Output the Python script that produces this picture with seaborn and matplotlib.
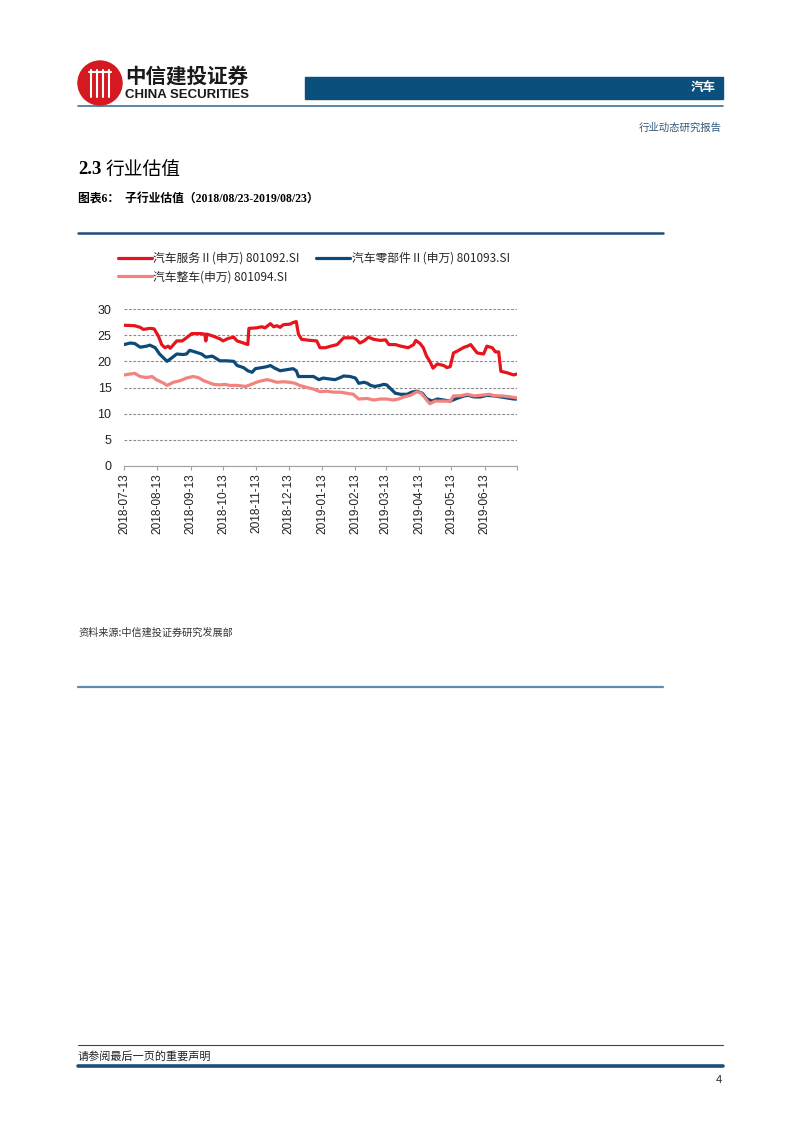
import matplotlib
matplotlib.use("Agg")
import matplotlib.pyplot as plt
from matplotlib.patches import Rectangle, Ellipse
from matplotlib.lines import Line2D
import pandas as pd
import seaborn as sns

# --- data (PE, TTM) ---
red_dates = ["2018-07-13", "2018-07-23", "2018-07-28", "2018-07-31", "2018-08-06", "2018-08-10",
             "2018-08-14", "2018-08-17", "2018-08-20", "2018-08-23", "2018-08-25", "2018-08-31",
             "2018-09-05", "2018-09-09", "2018-09-14", "2018-09-22", "2018-09-26", "2018-09-27",
             "2018-09-28", "2018-10-04", "2018-10-10", "2018-10-13", "2018-10-18", "2018-10-23",
             "2018-10-26", "2018-11-01", "2018-11-05", "2018-11-06", "2018-11-13", "2018-11-18",
             "2018-11-21", "2018-11-26", "2018-11-29", "2018-12-02", "2018-12-05", "2018-12-08",
             "2018-12-14", "2018-12-17", "2018-12-20", "2018-12-22", "2018-12-25", "2019-01-02",
             "2019-01-08", "2019-01-11", "2019-01-16", "2019-01-21", "2019-01-27", "2019-02-02",
             "2019-02-11", "2019-02-14", "2019-02-17", "2019-02-21", "2019-02-25", "2019-03-02",
             "2019-03-08", "2019-03-13", "2019-03-16", "2019-03-22", "2019-03-27", "2019-04-03",
             "2019-04-08", "2019-04-10", "2019-04-14", "2019-04-17", "2019-04-20", "2019-04-23",
             "2019-04-26", "2019-04-30", "2019-05-06", "2019-05-09", "2019-05-12", "2019-05-15",
             "2019-05-18", "2019-05-25", "2019-05-28", "2019-05-31", "2019-06-03", "2019-06-06",
             "2019-06-12", "2019-06-15", "2019-06-20", "2019-06-23", "2019-06-26", "2019-06-28",
             "2019-07-04", "2019-07-10", "2019-07-13"]
red_values = [26.9, 26.8, 26.5, 26.1, 26.3, 26.2,
              24.8, 23.2, 22.6, 22.9, 22.5, 23.9,
              23.9, 24.5, 25.3, 25.3, 25.2, 23.9,
              25.2, 24.8, 24.3, 23.9, 24.4, 24.6,
              23.9, 23.5, 23.2, 26.3, 26.4, 26.6,
              26.4, 27.2, 26.6, 26.8, 26.5, 27.0,
              27.1, 27.4, 27.6, 25.2, 24.2, 24.0,
              23.9, 22.6, 22.6, 22.9, 23.2, 24.5,
              24.5, 24.2, 23.5, 23.9, 24.6, 24.2,
              24.0, 24.1, 23.2, 23.2, 22.9, 22.6,
              23.2, 24.0, 23.4, 22.6, 21.0, 20.0,
              18.7, 19.5, 19.2, 18.8, 19.0, 21.6,
              21.9, 22.7, 22.9, 23.2, 22.4, 21.6,
              21.4, 22.9, 22.6, 21.8, 21.8, 18.1,
              17.8, 17.4, 17.6]

blue_dates = ["2018-07-13", "2018-07-19", "2018-07-23", "2018-07-28", "2018-08-03", "2018-08-06",
              "2018-08-11", "2018-08-15", "2018-08-19", "2018-08-22", "2018-08-26", "2018-08-31",
              "2018-09-06", "2018-09-09", "2018-09-12", "2018-09-17", "2018-09-23", "2018-09-27",
              "2018-10-03", "2018-10-07", "2018-10-10", "2018-10-16", "2018-10-23", "2018-10-26",
              "2018-11-01", "2018-11-05", "2018-11-09", "2018-11-12", "2018-11-18", "2018-11-23",
              "2018-11-26", "2018-11-30", "2018-12-05", "2018-12-11", "2018-12-17", "2018-12-20",
              "2018-12-22", "2018-12-30", "2019-01-05", "2019-01-10", "2019-01-14", "2019-01-21",
              "2019-01-25", "2019-01-30", "2019-02-02", "2019-02-08", "2019-02-13", "2019-02-16",
              "2019-02-21", "2019-02-24", "2019-02-27", "2019-03-03", "2019-03-08", "2019-03-11",
              "2019-03-14", "2019-03-19", "2019-03-22", "2019-03-27", "2019-04-02", "2019-04-06",
              "2019-04-11", "2019-04-16", "2019-04-20", "2019-04-25", "2019-04-30", "2019-05-06",
              "2019-05-12", "2019-05-18", "2019-05-25", "2019-05-29", "2019-06-03", "2019-06-09",
              "2019-06-15", "2019-06-21", "2019-06-28", "2019-07-04", "2019-07-10", "2019-07-13"]
blue_values = [23.2, 23.5, 23.4, 22.7, 22.9, 23.1,
               22.6, 21.4, 20.6, 20.0, 20.6, 21.4,
               21.3, 21.4, 22.1, 21.8, 21.4, 20.8,
               21.0, 20.5, 20.1, 20.1, 20.0, 19.2,
               18.8, 18.2, 17.9, 18.6, 18.8, 19.0,
               19.2, 18.7, 18.2, 18.4, 18.6, 18.2,
               17.1, 17.1, 17.1, 16.5, 16.8, 16.6,
               16.5, 16.9, 17.2, 17.1, 16.8, 15.8,
               16.0, 15.8, 15.4, 15.2, 15.4, 15.6,
               15.5, 14.5, 13.9, 13.7, 13.7, 14.1,
               14.3, 13.9, 12.9, 12.4, 12.8, 12.6,
               12.4, 12.9, 13.4, 13.5, 13.2, 13.2,
               13.5, 13.4, 13.2, 13.0, 12.8, 12.8]

pink_dates = ["2018-07-13", "2018-07-23", "2018-07-28", "2018-08-03", "2018-08-08", "2018-08-12",
              "2018-08-19", "2018-08-22", "2018-08-28", "2018-09-03", "2018-09-09", "2018-09-15",
              "2018-09-20", "2018-09-25", "2018-09-29", "2018-10-04", "2018-10-10", "2018-10-15",
              "2018-10-19", "2018-10-26", "2018-11-03", "2018-11-07", "2018-11-13", "2018-11-18",
              "2018-11-23", "2018-11-27", "2018-12-02", "2018-12-08", "2018-12-14", "2018-12-19",
              "2018-12-23", "2018-12-30", "2019-01-05", "2019-01-11", "2019-01-17", "2019-01-24",
              "2019-01-30", "2019-02-05", "2019-02-11", "2019-02-16", "2019-02-24", "2019-03-02",
              "2019-03-08", "2019-03-14", "2019-03-20", "2019-03-25", "2019-03-30", "2019-04-05",
              "2019-04-11", "2019-04-15", "2019-04-19", "2019-04-23", "2019-04-28", "2019-05-06",
              "2019-05-12", "2019-05-15", "2019-05-21", "2019-05-28", "2019-06-03", "2019-06-09",
              "2019-06-17", "2019-06-23", "2019-06-29", "2019-07-07", "2019-07-13"]
pink_values = [17.4, 17.7, 17.1, 16.9, 17.1, 16.5,
               15.8, 15.4, 16.0, 16.3, 16.8, 17.1,
               16.9, 16.3, 16.0, 15.6, 15.5, 15.6,
               15.4, 15.4, 15.2, 15.5, 16.0, 16.3,
               16.5, 16.3, 16.0, 16.1, 16.0, 15.8,
               15.4, 15.0, 14.7, 14.2, 14.3, 14.1,
               14.1, 13.9, 13.7, 12.8, 12.9, 12.6,
               12.8, 12.8, 12.6, 12.8, 13.2, 13.5,
               14.2, 13.9, 12.9, 11.9, 12.4, 12.4,
               12.4, 13.4, 13.4, 13.7, 13.4, 13.5,
               13.7, 13.4, 13.4, 13.2, 13.0]

series_names = ["汽车服务Ⅱ(申万) 801092.SI", "汽车零部件Ⅱ(申万) 801093.SI", "汽车整车(申万) 801094.SI"]
series_colors = ["#E8141B", "#0E4A78", "#F3837E"]
tick_dates = ["2018-07-13", "2018-08-13", "2018-09-13", "2018-10-13", "2018-11-13", "2018-12-13",
              "2019-01-13", "2019-02-13", "2019-03-13", "2019-04-13", "2019-05-13", "2019-06-13",
              "2019-07-13"]

frames = []
for name, d, v in zip(series_names,
                      [red_dates, blue_dates, pink_dates],
                      [red_values, blue_values, pink_values]):
    frames.append(pd.DataFrame({"date": pd.to_datetime(d), "pe": v, "series": name}))
df = pd.concat(frames, ignore_index=True)

sns.set_theme(style="white")
plt.rcParams["font.family"] = ["Liberation Sans", "Noto Sans CJK SC", "DejaVu Sans"]

W, H = 802, 1133
fig = plt.figure(figsize=(W / 100, H / 100), dpi=100)


def fx(x):
    return x / W


def fy(y):
    return 1 - y / H


cjk = ["Noto Sans CJK SC", "DejaVu Sans"]

# ---- page header ----
fig.patches.append(Ellipse((fx(100), fy(83)), 44 / W, 44 / H, transform=fig.transFigure,
                           color="#D51920", zorder=2))
for dx in (-9, -3, 3, 9):
    fig.lines.append(Line2D([fx(100 + dx), fx(100 + dx)], [fy(70), fy(97)],
                            transform=fig.transFigure, color="white", lw=1.5, zorder=3))
fig.lines.append(Line2D([fx(89), fx(111)], [fy(72), fy(72)], transform=fig.transFigure,
                        color="white", lw=1.5, zorder=3))
fig.text(fx(125), fy(76), "中信建投证券", family=cjk, fontsize=14.8, weight="bold",
         va="center", ha="left", color="#1a1a1a")
fig.text(fx(125), fy(95), "CHINA SECURITIES", family=["Liberation Sans"], fontsize=9.5,
         weight="bold", va="center", ha="left", color="#1a1a1a")
fig.patches.append(Rectangle((fx(305), fy(99)), (723 - 305) / W, 22 / H,
                             transform=fig.transFigure, color="#0B4F7D"))
fig.text(fx(716), fy(88), "汽车", family=cjk, fontsize=9, weight="bold",
         color="white", ha="right", va="center")
fig.lines.append(Line2D([fx(78), fx(723)], [fy(106), fy(106)], transform=fig.transFigure,
                        color="#3F6F96", lw=1.2))
fig.text(fx(722), fy(128), "行业动态研究报告", family=cjk, fontsize=7.5,
         color="#33597A", ha="right", va="center")

fig.text(fx(78), fy(170), "2.3", family=["Liberation Serif"], fontsize=13.5,
         weight="bold", ha="left", va="center", color="black")
fig.text(fx(106), fy(170), "行业估值", family=cjk, fontsize=13.5,
         ha="left", va="center", color="black")
fig.text(fx(78), fy(200), "图表6：  子行业估值（2018/08/23-2019/08/23）",
         family=["Liberation Serif", "Noto Sans CJK SC"], fontsize=8.5, weight="bold",
         ha="left", va="center", color="black")
fig.lines.append(Line2D([fx(78), fx(663)], [fy(233), fy(233)], transform=fig.transFigure,
                        color="#1D4E78", lw=1.8))

# ---- chart ----
ax = fig.add_axes([fx(124), fy(466), (517 - 124) / W, (466 - 309) / H])
sns.lineplot(data=df, x="date", y="pe", hue="series", hue_order=series_names,
             palette=series_colors, linewidth=2.3, ax=ax, legend=True)
ax.set_ylim(0, 30)
ax.set_yticks([0, 5, 10, 15, 20, 25, 30])
ticks = pd.to_datetime(tick_dates)
ax.set_xlim(ticks[0], ticks[-1])
ax.set_xticks(ticks)
ax.set_xticklabels([t.strftime("%Y-%m-%d") for t in ticks[:-1]] + [""], rotation=90)
ax.set_xlabel("")
ax.set_ylabel("")
ax.yaxis.grid(True, linestyle=(0, (2.5, 1.5)), color="#8c8c8c", lw=0.8)
ax.xaxis.grid(False)
for s in ("top", "right", "left"):
    ax.spines[s].set_visible(False)
ax.spines["bottom"].set_color("#a0a0a0")
ax.spines["bottom"].set_linewidth(0.8)
ax.tick_params(axis="y", length=0, pad=9, labelsize=9, labelcolor="#222222")
ax.tick_params(axis="x", bottom=True, length=3, width=0.8, color="#a0a0a0",
               pad=2, labelsize=8.6, labelcolor="#222222")

handles, labels = ax.get_legend_handles_labels()
ax.get_legend().remove()
order = [0, 2, 1]
fig.legend([handles[i] for i in order], [labels[i] for i in order],
           loc="upper left", bbox_to_anchor=(fx(112), fy(246)), ncol=2,
           frameon=False, borderpad=0, handlelength=2.9, handletextpad=0.1,
           columnspacing=1.4, labelspacing=0.45,
           prop={"family": cjk, "size": 8.5})

# ---- source & footer ----
fig.text(fx(78), fy(633), "资料来源:中信建投证券研究发展部", family=cjk, fontsize=7.3,
         style="italic", color="#333333", ha="left", va="center")
fig.lines.append(Line2D([fx(78), fx(663)], [fy(687), fy(687)], transform=fig.transFigure,
                        color="#5A8CB4", lw=1.6))
fig.lines.append(Line2D([fx(78), fx(723)], [fy(1045), fy(1045)], transform=fig.transFigure,
                        color="#1D4E78", lw=0.8))
fig.text(fx(78), fy(1056), "请参阅最后一页的重要声明", family=cjk, fontsize=8,
         color="#222222", ha="left", va="center")
fig.lines.append(Line2D([fx(78), fx(723)], [fy(1066), fy(1066)], transform=fig.transFigure,
                        color="#1D4E78", lw=2.6))
fig.text(fx(722), fy(1080), "4", family=["Liberation Sans"], fontsize=8,
         color="#222222", ha="right", va="center")

fig.savefig("out.png", dpi=100)
